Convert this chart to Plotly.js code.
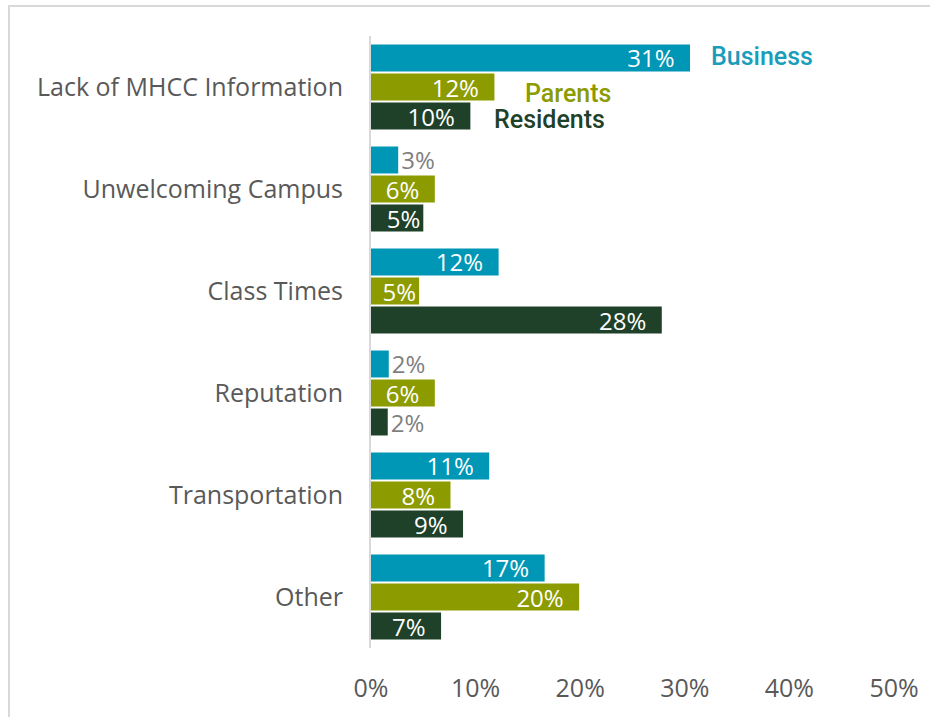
<!DOCTYPE html>
<html>
<head>
<meta charset="utf-8">
<script src="https://cdn.plot.ly/plotly-3.0.1.min.js"></script>
<style>
html, body { margin: 0; padding: 0; background: #ffffff; }
#frame { position: absolute; left: 8px; top: 5px; width: 922px; height: 712px;
  border-left: 2px solid #d9d9d9; border-top: 2px solid #d9d9d9; }
#chart { width: 920px; height: 710px; }
</style>
</head>
<body>
<div id="frame"><div id="chart"></div></div>
<script>
const categories = ["Lack of MHCC Information", "Unwelcoming Campus", "Class Times", "Reputation", "Transportation", "Other"];
const businessValues = [0.305, 0.026, 0.122, 0.017, 0.113, 0.166];
const parentsValues  = [0.118, 0.061, 0.046, 0.061, 0.076, 0.199];
const residentsValues = [0.095, 0.050, 0.278, 0.016, 0.088, 0.067];
const businessLabels = ["31%", "3%", "12%", "2%", "11%", "17%"];
const parentsLabels  = ["12%", "6%", "5%", "6%", "8%", "20%"];
const residentsLabels = ["10%", "5%", "28%", "2%", "9%", "7%"];
const seriesNames = ["Business", "Parents", "Residents"];
const xTickValues = [0, 0.1, 0.2, 0.3, 0.4, 0.5];
const xTickLabels = ["0%", "10%", "20%", "30%", "40%", "50%"];

const colors = ["#0096b5", "#8c9b00", "#1f4129"];
const labelFont = "'Open Sans', 'Noto Sans', sans-serif";

function makeTrace(name, values, labels, color) {
  return {
    type: "bar", orientation: "h", name: name,
    y: categories, x: values, text: labels,
    texttemplate: values.map(v => v >= 0.055 ? "%{text}\u00a0\u00a0" : "%{text}"),
    textposition: values.map(v => v < 0.03 ? "outside" : "inside"),
    insidetextanchor: "end", constraintext: "none",
    insidetextfont: { color: "#ffffff", size: 24, family: labelFont },
    outsidetextfont: { color: "#7f7f7f", size: 24, family: labelFont },
    marker: { color: color },
    hoverinfo: "skip", cliponaxis: false
  };
}

const data = [
  makeTrace(seriesNames[0], businessValues, businessLabels, colors[0]),
  makeTrace(seriesNames[1], parentsValues, parentsLabels, colors[1]),
  makeTrace(seriesNames[2], residentsValues, residentsLabels, colors[2])
];

const annFont = "Roboto, 'Noto Sans', sans-serif";
const layout = {
  width: 920, height: 710,
  margin: { l: 361, r: 36, t: 29, b: 69 },
  paper_bgcolor: "#ffffff", plot_bgcolor: "#ffffff",
  barmode: "group", bargap: 0.147, bargroupgap: 0.07,
  showlegend: false,
  font: { family: labelFont, color: "#595959" },
  xaxis: {
    range: [0, 0.5], tickvals: xTickValues, ticktext: xTickLabels,
    showgrid: false, zeroline: false, showline: false,
    ticks: "", ticklabelstandoff: 23,
    tickfont: { size: 25, color: "#595959", family: labelFont }
  },
  yaxis: {
    autorange: "reversed", showgrid: false, zeroline: false,
    showline: true, linecolor: "#d9d9d9", linewidth: 2,
    ticks: "", ticklabelstandoff: 21,
    tickfont: { size: 25, color: "#595959", family: labelFont }
  },
  annotations: [
    { text: seriesNames[0], xref: "x", yref: "paper", x: 0.323, y: 0.966, xanchor: "left", yanchor: "middle",
      showarrow: false, font: { family: annFont, size: 25, weight: 500, color: "#1a9cbb" } },
    { text: seriesNames[1], xref: "x", yref: "paper", x: 0.145, y: 0.906, xanchor: "left", yanchor: "middle",
      showarrow: false, font: { family: annFont, size: 25, weight: 500, color: "#8c9b00" } },
    { text: seriesNames[2], xref: "x", yref: "paper", x: 0.116, y: 0.864, xanchor: "left", yanchor: "middle",
      showarrow: false, font: { family: annFont, size: 25, weight: 500, color: "#1f4129" } }
  ]
};

Plotly.newPlot("chart", data, layout, { displayModeBar: false, staticPlot: true });
</script>
</body>
</html>
